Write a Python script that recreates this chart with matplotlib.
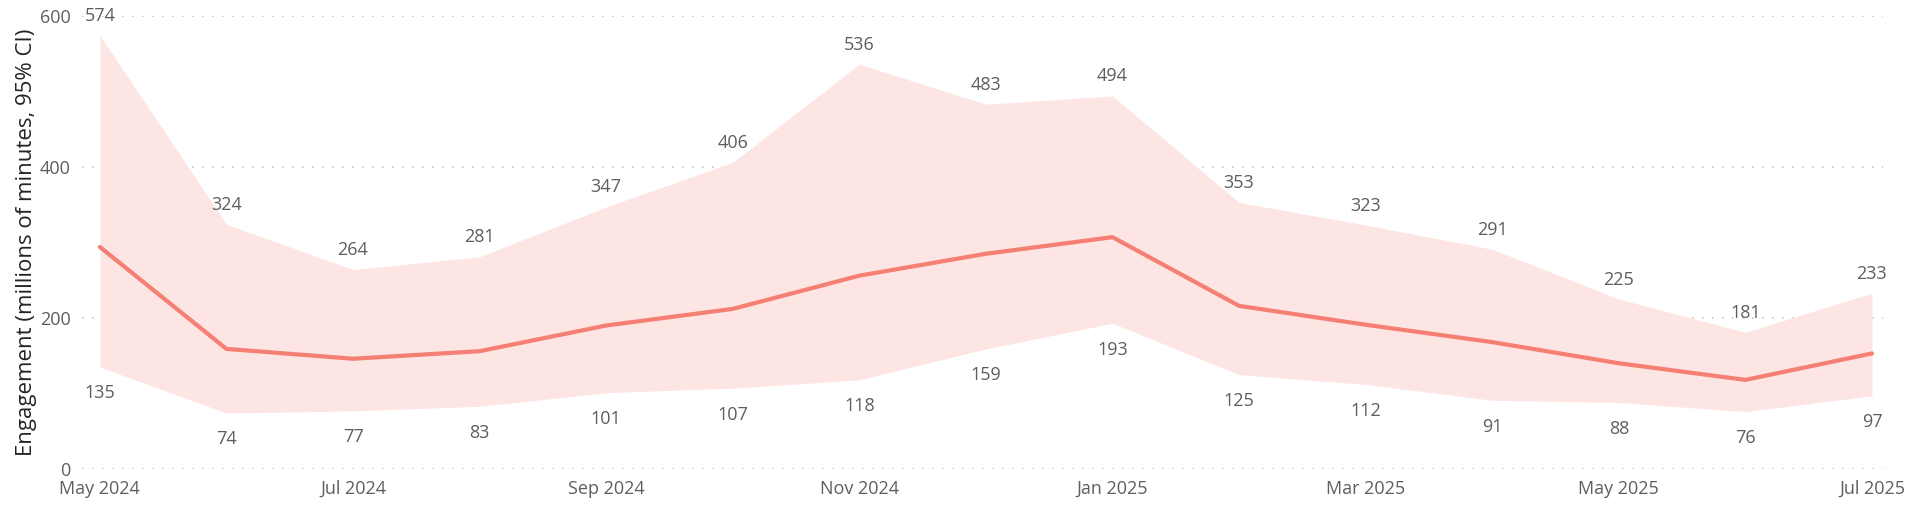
import matplotlib
matplotlib.use("Agg")
import matplotlib.pyplot as plt
import numpy as np

plt.rcParams['font.family'] = ['Open Sans', 'DejaVu Sans']

# monthly data, May 2024 .. Jul 2025
months = ["May 2024", "Jun 2024", "Jul 2024", "Aug 2024", "Sep 2024", "Oct 2024",
          "Nov 2024", "Dec 2024", "Jan 2025", "Feb 2025", "Mar 2025", "Apr 2025",
          "May 2025", "Jun 2025", "Jul 2025"]
mean = [294, 159, 146, 156, 190, 212, 256, 285, 307, 216, 191, 168, 140, 118, 153]
upper = [574, 324, 264, 281, 347, 406, 536, 483, 494, 353, 323, 291, 225, 181, 233]
lower = [135, 74, 77, 83, 101, 107, 118, 159, 193, 125, 112, 91, 88, 76, 97]

line_col = "#F47F72"
fill_col = "#FDE5E4"
text_col = "#605E5C"

fig = plt.figure(figsize=(19.14, 5.12), dpi=100)
ax = fig.add_axes([0.0428, 0.084, 0.9410, 0.885])

x = np.arange(len(months))
ax.fill_between(x, lower, upper, color=fill_col, linewidth=0, zorder=1)
ax.plot(x, mean, color=line_col, linewidth=3, solid_capstyle='round',
        solid_joinstyle='round', zorder=3)

# data labels for CI bounds
for i in x:
    ax.annotate(str(upper[i]), (i, upper[i]), xytext=(0, 14), textcoords='offset points',
                ha='center', va='center', fontsize=13, color=text_col, zorder=4,
                annotation_clip=False)
    ax.annotate(str(lower[i]), (i, lower[i]), xytext=(0, -19), textcoords='offset points',
                ha='center', va='center', fontsize=13, color=text_col, zorder=4)

ax.set_xlim(-0.142, len(months) - 1 + 0.087)
ax.set_ylim(0, 600)
ax.set_yticks([0, 200, 400, 600])
ax.set_xticks(x[::2])
ax.set_xticklabels(months[::2])
ax.tick_params(axis='both', length=0, labelsize=13, labelcolor=text_col)
ax.tick_params(axis='y', pad=8)
ax.tick_params(axis='x', pad=8)

ax.grid(axis='y', linestyle=(0, (1, 5)), color="#C8C6C4", linewidth=1.2, zorder=0)
ax.set_axisbelow(True)
for s in ax.spines.values():
    s.set_visible(False)

ax.set_ylabel("Engagement (millions of minutes, 95% CI)", fontsize=16,
              color="#252423", labelpad=2)

fig.savefig("out.png", dpi=100)
